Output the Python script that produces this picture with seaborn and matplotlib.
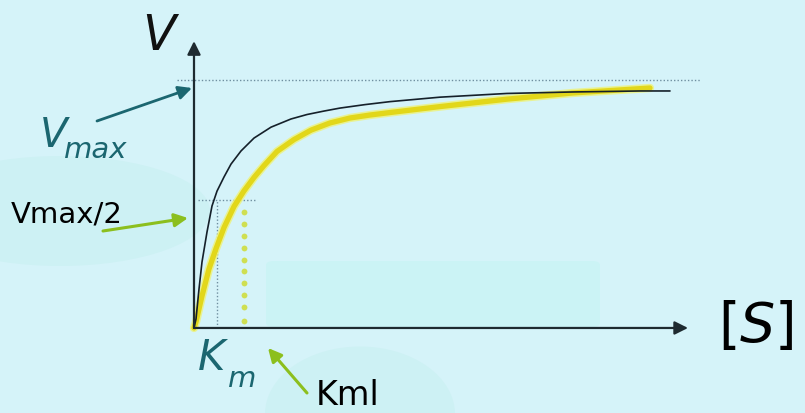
import numpy as np
import pandas as pd
import matplotlib
matplotlib.use("Agg")
import matplotlib.pyplot as plt
from matplotlib.patches import Ellipse, FancyBboxPatch
import seaborn as sns

# curve readings: substrate [S] (arbitrary units) and rate V (fraction of Vmax)
black_s = [0, 0.04, 0.10, 0.16, 0.26, 0.36, 0.46, 0.60, 0.74, 0.94, 1.20, 1.54,
           1.94, 2.26, 2.60, 2.92, 3.42, 3.92, 4.92, 6.26, 7.58, 8.92, 9.52]
black_v = [0, 0.036, 0.157, 0.266, 0.387, 0.492, 0.552, 0.609, 0.661, 0.714, 0.766,
           0.810, 0.843, 0.861, 0.875, 0.887, 0.901, 0.913, 0.931, 0.946, 0.952,
           0.956, 0.956]

yellow_s = [0, 0.04, 0.16, 0.30, 0.44, 0.60, 0.80, 1.00, 1.20, 1.40, 1.66, 2.00,
            2.34, 2.72, 3.12, 3.52, 3.92, 4.92, 6.26, 7.58, 9.12]
yellow_v = [0, 0.024, 0.129, 0.238, 0.320, 0.405, 0.490, 0.553, 0.607, 0.655, 0.712,
            0.760, 0.798, 0.827, 0.847, 0.859, 0.869, 0.893, 0.923, 0.948, 0.968]

vmax = 1.0
half_v = 0.516
km_black = 0.46
km_yellow = 1.0
yellow_drop = [0.468, 0.42, 0.372, 0.324, 0.276, 0.228, 0.18, 0.132, 0.084, 0.028]
vmax_line = [-0.34, 10.12]
half_line = [0.08, 1.26]
x_axis_end = 9.88
y_axis_end = 1.157

W, H = 805, 414
BG = "#d5f3f9"
TEAL = "#1b6670"
GREEN = "#8cbf1e"
YELLOW = "#e2d71a"
DOT = "#6f8fa0"
AXIS = "#1e2a30"

sns.set_theme(style="white")
plt.rcParams["font.family"] = ["DejaVu Sans"]
plt.rcParams["mathtext.fontset"] = "dejavusans"

fig = plt.figure(figsize=(W / 100, H / 100), dpi=100, facecolor=BG)
ax = fig.add_axes([0, 0, 1, 1])
ax.set_facecolor("none")


def px(x, y):
    # pixel position -> axes fraction, for text and decoration placement
    return (x / W, 1 - y / H)


# soft background shapes
for (cx, cy, w, h, c) in [(60, 212, 300, 110, "#cdf1f4"), (360, 415, 190, 135, "#cdf1f4")]:
    e = Ellipse(px(cx, cy), w / W, h / H, transform=ax.transAxes,
                facecolor=c, edgecolor="none", zorder=0)
    ax.add_patch(e)
ax.add_patch(FancyBboxPatch(px(266, 328), (600 - 266) / W, (328 - 262) / H,
                            boxstyle="round,pad=0,rounding_size=0.01",
                            transform=ax.transAxes, facecolor="#cbf3f5",
                            edgecolor="none", zorder=0))

# guide lines
ax.plot(vmax_line, [vmax, vmax], color=DOT, lw=1, ls=(0, (1, 1.5)), zorder=1)
ax.plot(half_line, [half_v, half_v], color=DOT, lw=1, ls=(0, (1, 1.5)), zorder=1)
ax.plot([km_black, km_black], [0, half_v], color=DOT, lw=1, ls=(0, (1, 1.5)), zorder=1)
ax.plot([km_yellow] * len(yellow_drop), yellow_drop, ls="none", marker="o",
        ms=4.2, mfc="#cfdf52", mec="none", zorder=2)

# curves
black = pd.DataFrame({"S": black_s, "V": black_v})
yellow = pd.DataFrame({"S": yellow_s, "V": yellow_v})
round_joins = dict(solid_joinstyle="round", solid_capstyle="round")
sns.lineplot(data=yellow, x="S", y="V", sort=False, estimator=None, ax=ax,
             color="#eef27a", lw=6.0, alpha=0.8, zorder=3, **round_joins)
sns.lineplot(data=yellow, x="S", y="V", sort=False, estimator=None, ax=ax,
             color=YELLOW, lw=3.8, zorder=4, **round_joins)
sns.lineplot(data=black, x="S", y="V", sort=False, estimator=None, ax=ax,
             color="#15202a", lw=1.2, zorder=5, **round_joins)
ax.set_xlim(-3.88, 12.22)
ax.set_ylim(-0.343, 1.327)
ax.axis("off")

# axes with arrows
arrow = dict(arrowstyle="-|>", color=AXIS, lw=1.6, mutation_scale=20,
             shrinkA=0, shrinkB=0)
ax.annotate("", xy=(0, y_axis_end), xytext=(0, 0), arrowprops=arrow, zorder=6)
ax.annotate("", xy=(x_axis_end, 0), xytext=(0, 0), arrowprops=arrow, zorder=6)

# labels
tr = ax.transAxes
ax.text(*px(159, 50), "V", transform=tr, fontsize=35, style="italic",
        color="#111111", ha="center", va="baseline")
ax.text(*px(40, 147), "V", transform=tr, fontsize=29, style="italic",
        color=TEAL, ha="left", va="baseline")
ax.text(*px(64, 158), "max", transform=tr, fontsize=21, style="italic",
        color=TEAL, ha="left", va="baseline")
ax.text(*px(11, 223), "Vmax/2", transform=tr, fontsize=21, color="black",
        ha="left", va="baseline")
ax.text(*px(198, 370), "K", transform=tr, fontsize=30, style="italic",
        color=TEAL, ha="left", va="baseline")
ax.text(*px(228, 387), "m", transform=tr, fontsize=21, style="italic",
        color=TEAL, ha="left", va="baseline")
ax.text(*px(316, 405), "Kml", transform=tr, fontsize=24, color="black",
        ha="left", va="baseline")
ax.text(*px(718, 327), r"$[S]$", transform=tr, fontsize=40, color="black",
        ha="left", va="center")

# pointer arrows
ax.annotate("", xy=px(192, 89), xytext=px(97, 122), xycoords=tr, textcoords=tr,
            arrowprops=dict(arrowstyle="-|>", color=TEAL, lw=2, mutation_scale=20,
                            shrinkA=0, shrinkB=0))
ax.annotate("", xy=px(188, 219), xytext=px(103, 232), xycoords=tr, textcoords=tr,
            arrowprops=dict(arrowstyle="-|>", color=GREEN, lw=2.2, mutation_scale=20,
                            shrinkA=0, shrinkB=0))
ax.annotate("", xy=px(268, 349), xytext=px(307, 394), xycoords=tr, textcoords=tr,
            arrowprops=dict(arrowstyle="-|>", color=GREEN, lw=2.2, mutation_scale=20,
                            shrinkA=0, shrinkB=0))

fig.savefig("out.png", dpi=100, facecolor=BG)
